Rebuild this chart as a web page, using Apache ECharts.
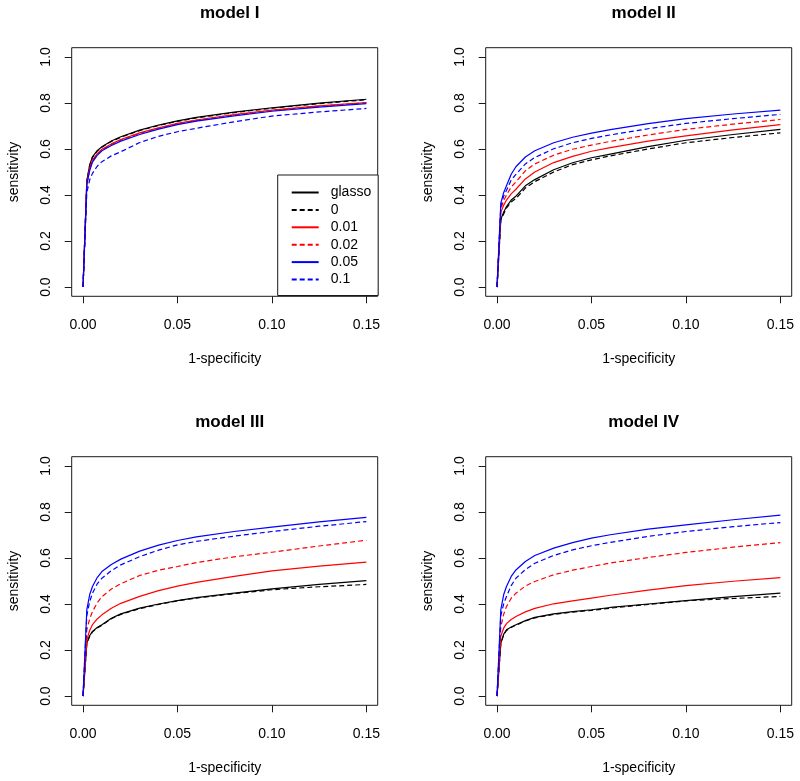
<!DOCTYPE html>
<html>
<head>
<meta charset="utf-8">
<script src="https://cdn.jsdelivr.net/npm/echarts@6/dist/echarts.min.js"></script>
<style>
html,body{margin:0;padding:0;background:#fff;}
#chart{width:800px;height:781px;}
</style>
</head>
<body>
<div id="chart"></div>
<script>
// x values (1-specificity), shared by all curves
const fpr = [0, 0.002, 0.0035, 0.005, 0.0075, 0.01, 0.015, 0.02, 0.03, 0.04, 0.05, 0.06, 0.08, 0.10, 0.125, 0.15];

const seriesNames = ['glasso', '0', '0.01', '0.02', '0.05', '0.1'];
const modelTitles = ['model I', 'model II', 'model III', 'model IV'];
const xTicks = [0, 0.05, 0.10, 0.15];
const yTicks = [0, 0.2, 0.4, 0.6, 0.8, 1.0];

// model I
const m1Glasso = [0, .46, .53, .566, .593, .610, .635, .653, .682, .704, .722, .737, .760, .779, .799, .816];
const m1Zero   = [0, .458, .528, .564, .591, .608, .633, .651, .680, .702, .720, .735, .758, .777, .797, .814];
const m1P01    = [0, .45, .515, .552, .580, .599, .622, .641, .670, .692, .711, .726, .749, .769, .787, .802];
const m1P02    = [0, .448, .512, .549, .577, .596, .620, .639, .668, .690, .709, .724, .747, .767, .786, .801];
const m1P05    = [0, .445, .505, .543, .572, .592, .615, .634, .663, .686, .706, .721, .744, .764, .782, .797];
const m1P1     = [0, .41, .465, .494, .525, .545, .570, .588, .628, .655, .675, .690, .718, .743, .761, .776];

// model II
const m2Glasso = [0, .295, .325, .350, .378, .395, .44, .467, .510, .540, .562, .578, .610, .638, .663, .685];
const m2Zero   = [0, .29, .318, .343, .370, .385, .43, .458, .500, .532, .553, .570, .600, .627, .650, .670];
const m2P01    = [0, .325, .355, .378, .405, .425, .47, .500, .541, .568, .590, .606, .634, .657, .683, .706];
const m2P02    = [0, .34, .375, .40, .435, .457, .505, .535, .573, .599, .617, .633, .661, .685, .708, .728];
const m2P05    = [0, .365, .41, .44, .49, .523, .565, .592, .627, .651, .669, .684, .710, .732, .752, .769];
const m2P1     = [0, .35, .395, .42, .465, .490, .535, .563, .601, .627, .646, .661, .688, .711, .732, .750];

// model III
const m3Glasso = [0, .230, .262, .281, .298, .310, .338, .357, .382, .400, .415, .428, .447, .466, .485, .502];
const m3Zero   = [0, .228, .26, .279, .296, .308, .336, .355, .380, .398, .414, .426, .445, .462, .475, .485];
const m3P01    = [0, .244, .285, .310, .335, .353, .382, .403, .433, .458, .478, .494, .520, .544, .565, .582];
const m3P02    = [0, .288, .335, .367, .405, .432, .465, .488, .524, .547, .563, .580, .605, .625, .652, .677];
const m3P05    = [0, .375, .44, .476, .515, .541, .572, .595, .630, .656, .676, .692, .715, .734, .757, .776];
const m3P1     = [0, .35, .41, .447, .487, .512, .545, .570, .606, .634, .657, .672, .695, .715, .738, .758];

// model IV
const m4Glasso = [0, .23, .268, .288, .300, .310, .328, .342, .357, .367, .375, .385, .400, .415, .432, .447];
const m4Zero   = [0, .228, .265, .285, .298, .308, .326, .340, .355, .365, .372, .382, .398, .414, .424, .433];
const m4P01    = [0, .26, .295, .315, .333, .346, .366, .381, .401, .414, .426, .438, .460, .480, .499, .515];
const m4P02    = [0, .30, .355, .389, .425, .447, .478, .498, .527, .547, .563, .578, .602, .624, .647, .667];
const m4P05    = [0, .375, .44, .476, .52, .548, .585, .611, .643, .667, .686, .701, .725, .744, .766, .786];
const m4P1     = [0, .35, .40, .433, .48, .512, .550, .577, .611, .635, .653, .668, .694, .715, .736, .754];

const models = [
  [m1Glasso, m1Zero, m1P01, m1P02, m1P05, m1P1],
  [m2Glasso, m2Zero, m2P01, m2P02, m2P05, m2P1],
  [m3Glasso, m3Zero, m3P01, m3P02, m3P05, m3P1],
  [m4Glasso, m4Zero, m4P01, m4P02, m4P05, m4P1]
];

const lineColors = ['#000000', '#000000', '#ff0000', '#ff0000', '#0000ff', '#0000ff'];
const lineTypes = ['solid', [5, 3], 'solid', [5, 3], 'solid', [5, 3]];

const FONT = '"Liberation Sans", Arial, Helvetica, sans-serif';
const gridPos = [
  {left: 71.7, top: 47.7},
  {left: 485.7, top: 47.7},
  {left: 71.7, top: 456.7},
  {left: 485.7, top: 456.7}
];
const GW = 306, GH = 248.6;

const grids = [], xAxes = [], yAxes = [], titles = [], series = [];
gridPos.forEach((p, gi) => {
  grids.push({left: p.left, top: p.top, width: GW, height: GH, show: true,
    borderColor: '#1a1a1a', borderWidth: 1, backgroundColor: 'transparent', containLabel: false});
  xAxes.push({
    type: 'value', gridIndex: gi, min: -0.006, max: 0.156,
    name: '1-specificity', nameLocation: 'middle', nameGap: 56,
    nameTextStyle: {fontFamily: FONT, fontSize: 14, color: '#000'},
    axisLine: {show: false, onZero: false},
    axisTick: {show: true, inside: false, length: 7, customValues: xTicks, lineStyle: {color: '#1a1a1a', width: 1}},
    axisLabel: {show: true, customValues: xTicks, margin: 22, fontFamily: FONT, fontSize: 14, color: '#000',
      formatter: v => Number(v).toFixed(2)},
    splitLine: {show: false}
  });
  yAxes.push({
    type: 'value', gridIndex: gi, min: -0.04, max: 1.04,
    name: 'sensitivity', nameLocation: 'middle', nameGap: 51, nameRotate: 90,
    nameTextStyle: {fontFamily: FONT, fontSize: 14, color: '#000'},
    axisLine: {show: false, onZero: false},
    axisTick: {show: true, inside: false, length: 7, customValues: yTicks, lineStyle: {color: '#1a1a1a', width: 1}},
    axisLabel: {show: true, customValues: yTicks, margin: 19, rotate: 90, fontFamily: FONT, fontSize: 14, color: '#000',
      formatter: v => Number(v).toFixed(1)},
    splitLine: {show: false}
  });
  titles.push({
    text: modelTitles[gi], left: p.left + GW / 2, top: p.top - 48, textAlign: 'center',
    textStyle: {fontFamily: FONT, fontSize: 17, fontWeight: 'bold', color: '#000'}
  });
  models[gi].forEach((vals, si) => {
    series.push({
      type: 'line', name: seriesNames[si], xAxisIndex: gi, yAxisIndex: gi,
      data: fpr.map((x, i) => [x, vals[i]]),
      showSymbol: false, symbol: 'none', smooth: false, animation: false,
      lineStyle: {color: lineColors[si], type: lineTypes[si], width: 1.2},
      itemStyle: {color: lineColors[si]},
      z: 2 + si
    });
  });
});

const chart = echarts.init(document.getElementById('chart'), null, {renderer: 'canvas'});
chart.setOption({
  animation: false,
  backgroundColor: '#ffffff',
  title: titles,
  grid: grids,
  xAxis: xAxes,
  yAxis: yAxes,
  legend: {
    data: seriesNames, orient: 'vertical', left: 277.7, top: 175,
    padding: [10.5, 7, 9, 13], itemWidth: 27, itemHeight: 14, itemGap: 3.4,
    backgroundColor: '#fff', borderColor: '#1a1a1a', borderWidth: 1, borderRadius: 0,
    selectedMode: false,
    itemStyle: {color: 'rgba(0,0,0,0)', borderColor: 'rgba(0,0,0,0)', borderWidth: 0, opacity: 0},
    textStyle: {fontFamily: FONT, fontSize: 14, color: '#000', padding: [0, 0, 0, 7]}
  },
  series: series
});
</script>
</body>
</html>
